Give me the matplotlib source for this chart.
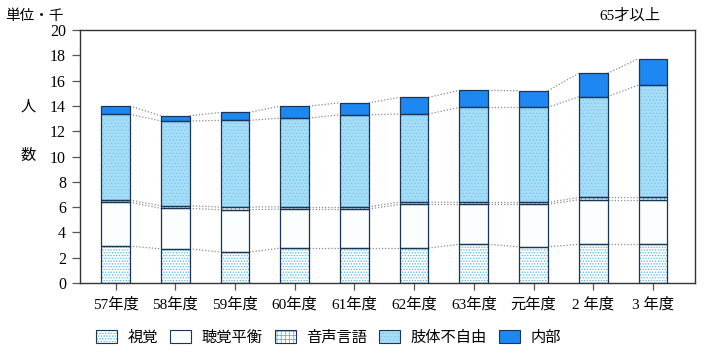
import matplotlib
matplotlib.use('Agg')
import numpy as np
import matplotlib.pyplot as plt
from matplotlib.patches import Patch

plt.rcParams['font.family'] = ['Liberation Serif', 'Noto Sans CJK JP', 'DejaVu Sans']
plt.rcParams['hatch.linewidth'] = 0.6

# ------------ data (thousands of people, 65+) ---------------
years = ['57年度', '58年度', '59年度', '60年度', '61年度',
         '62年度', '63年度', '元年度', '2 年度', '3 年度']
sikaku = [2.92, 2.71, 2.45, 2.77, 2.77, 2.77, 3.06, 2.87, 3.06, 3.06]     # 視覚
choukaku = [3.48, 3.19, 3.35, 3.08, 3.08, 3.45, 3.16, 3.35, 3.53, 3.53]   # 聴覚平衡
onsei = [0.16, 0.21, 0.21, 0.18, 0.18, 0.18, 0.16, 0.16, 0.18, 0.18]      # 音声言語
shitai = [6.78, 6.70, 6.85, 7.01, 7.27, 6.96, 7.51, 7.51, 7.96, 8.88]     # 肢体不自由
naibu = [0.65, 0.41, 0.63, 0.95, 0.95, 1.32, 1.34, 1.31, 1.85, 2.08]      # 内部

names = ['視覚', '聴覚平衡', '音声言語', '肢体不自由', '内部']
series = [sikaku, choukaku, onsei, shitai, naibu]
# (facecolor, hatch, hatch colour)
styles = [('white', '......', '#4cb8ec'),
          ('#fbfeff', '', '#ffffff'),
          ('white', '++++', '#5ab4ea'),
          ('#a6def8', '.....', '#7cc6ee'),
          ('#1e88f2', '', '#1e88f2')]
EDGE = '#1c3552'

fig = plt.figure(figsize=(7.06, 3.53), dpi=100)
ax = fig.add_axes([0.113, 0.198, 0.871, 0.717])

x = np.arange(len(years))
w = 0.48
bottom = np.zeros(len(years))
for vals, (fc, hatch, hc) in zip(series, styles):
    vals = np.array(vals)
    # fill + hatch (hatch takes the edge colour), then outline on top
    ax.bar(x, vals, w, bottom=bottom, color=fc, hatch=hatch,
           edgecolor=hc, linewidth=0, zorder=2)
    ax.bar(x, vals, w, bottom=bottom, fill=False,
           edgecolor=EDGE, linewidth=0.9, zorder=3)
    bottom = bottom + vals
    # dotted connectors between neighbouring bars
    for i in range(len(years) - 1):
        ax.plot([x[i] + w / 2, x[i + 1] - w / 2], [bottom[i], bottom[i + 1]],
                ls=(0, (1, 1.5)), color='#8a8a8a', lw=0.9, zorder=1)

ax.set_xlim(-0.6, 9.7)
ax.set_ylim(0, 20)
ax.set_yticks(range(0, 21, 2))
ax.set_xticks(x)
ax.set_xticklabels(years, fontsize=11)
ax.tick_params(axis='y', labelsize=11.5, length=6, width=0.9, color='#555555', pad=4)
ax.tick_params(axis='x', length=5, width=0.9, color='#555555', pad=5)
for sp in ax.spines.values():
    sp.set_color('#333333')
    sp.set_linewidth(1.0)

fig.text(0.008, 0.955, '単位・千', fontsize=10.5, va='center')
fig.text(0.849, 0.955, '65才以上', fontsize=11, va='center')
fig.text(0.040, 0.697, '人', fontsize=11, ha='center', va='center')
fig.text(0.040, 0.557, '数', fontsize=11, ha='center', va='center')

# legend swatches: hatch layer + dark outline overlaid
handles = [(Patch(facecolor=fc, hatch=hatch, edgecolor=hc, linewidth=0),
            Patch(fill=False, edgecolor=EDGE, linewidth=0.8))
           for fc, hatch, hc in styles]
leg = fig.legend(handles, names, loc='center left', bbox_to_anchor=(0.117, 0.045),
                 ncol=5, frameon=False, fontsize=11, handlelength=1.35,
                 handleheight=1.0, columnspacing=0.8, handletextpad=0.7)

fig.savefig('out.png', dpi=100)
